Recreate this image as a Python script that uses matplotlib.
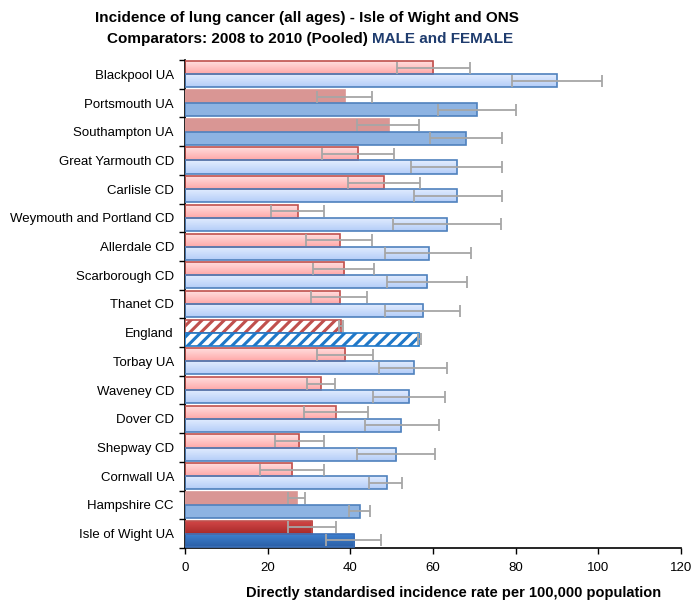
import numpy as np
import matplotlib.pyplot as plt
from matplotlib.colors import LinearSegmentedColormap
from matplotlib.patches import Rectangle

plt.rcParams['font.family'] = ['Liberation Sans', 'DejaVu Sans']
plt.rcParams['hatch.linewidth'] = 2.2

areas = ['Blackpool UA', 'Portsmouth UA', 'Southampton UA', 'Great Yarmouth CD',
         'Carlisle CD', 'Weymouth and Portland CD', 'Allerdale CD', 'Scarborough CD',
         'Thanet CD', 'England', 'Torbay UA', 'Waveney CD', 'Dover CD', 'Shepway CD',
         'Cornwall UA', 'Hampshire CC', 'Isle of Wight UA']

red_vals = [60.1, 38.7, 49.3, 41.9, 48.1, 27.3, 37.5, 38.5, 37.5, 37.7,
            38.8, 32.9, 36.5, 27.6, 25.9, 27.2, 30.8]
red_lo = [51.2, 31.9, 41.7, 33.1, 39.4, 20.8, 29.3, 31.0, 30.5, 37.2,
          31.9, 29.5, 28.8, 21.8, 18.1, 25.0, 24.8]
red_hi = [69.0, 45.3, 56.6, 50.6, 56.9, 33.6, 45.2, 45.7, 44.0, 38.2,
          45.5, 36.3, 44.3, 33.6, 33.6, 29.0, 36.6]

blue_vals = [89.9, 70.7, 67.9, 65.7, 65.8, 63.4, 59.0, 58.6, 57.6, 56.7,
             55.4, 54.2, 52.3, 51.1, 48.8, 42.3, 40.9]
blue_lo = [79.0, 61.1, 59.3, 54.6, 55.4, 50.3, 48.4, 48.9, 48.4, 56.3,
           47.0, 45.5, 43.6, 41.6, 44.6, 39.7, 34.0]
blue_hi = [100.8, 80.2, 76.7, 76.8, 76.7, 76.5, 69.2, 68.2, 66.5, 57.1,
           63.5, 62.9, 61.5, 60.5, 52.6, 44.8, 47.5]

# bar style groups
solid_areas = ['Portsmouth UA', 'Southampton UA', 'Hampshire CC']
local_area = 'Isle of Wight UA'
national = 'England'

RED_EDGE = '#c0504d'
BLUE_EDGE = '#4f81bd'
ERR = '#a6a6a6'


def gradient_bar(ax, y, w, h, top, bottom, edge):
    rect = Rectangle((0, y - h / 2), w, h, facecolor='none', edgecolor=edge,
                     linewidth=1.2, zorder=3)
    ax.add_patch(rect)
    cmap = LinearSegmentedColormap.from_list('g', [bottom, top])
    grad = np.linspace(0, 1, 50).reshape(-1, 1)
    im = ax.imshow(grad, cmap=cmap, aspect='auto', origin='lower',
                   extent=(0, w, y - h / 2, y + h / 2), zorder=2)
    im.set_clip_path(rect)


fig = plt.figure(figsize=(6.94, 6.01), dpi=100)
ax = fig.add_axes([185 / 694, 53 / 601, 496 / 694, 488 / 601])

n = len(areas)
h = 0.455
for i, name in enumerate(areas):
    yc = n - 1 - i
    yr = yc + h / 2
    yb = yc - h / 2
    rv, bv = red_vals[i], blue_vals[i]
    if name == national:
        ax.barh(yr, rv, height=h, color='white', edgecolor=RED_EDGE, hatch='///',
                linewidth=1.2, zorder=3)
        ax.barh(yb, bv, height=h, color='white', edgecolor='#1f78c8', hatch='///',
                linewidth=1.2, zorder=3)
    elif name == local_area:
        gradient_bar(ax, yr, rv, h, '#d44848', '#a82a2a', '#c0504d')
        gradient_bar(ax, yb, bv, h, '#3f82d2', '#2a5fa6', '#3a6fb8')
    elif name in solid_areas:
        ax.barh(yr, rv, height=h, color='#d99694', edgecolor='#d99694',
                linewidth=1.2, zorder=3)
        ax.barh(yb, bv, height=h, color='#8db3e2', edgecolor=BLUE_EDGE,
                linewidth=1.2, zorder=3)
    else:
        gradient_bar(ax, yr, rv, h, '#ffe2e2', '#ffa8a8', RED_EDGE)
        gradient_bar(ax, yb, bv, h, '#e4eeff', '#b4cdf8', BLUE_EDGE)

    ax.errorbar(rv, yr, xerr=[[rv - red_lo[i]], [red_hi[i] - rv]], fmt='none',
                ecolor=ERR, elinewidth=1.3, capsize=4, capthick=1.3, zorder=4)
    ax.errorbar(bv, yb, xerr=[[bv - blue_lo[i]], [blue_hi[i] - bv]], fmt='none',
                ecolor=ERR, elinewidth=1.3, capsize=4, capthick=1.3, zorder=4)

ax.set_xlim(0, 120)
ax.set_ylim(-0.5, n - 0.5)
ax.set_xticks(np.arange(0, 121, 20))
ax.set_yticks(np.arange(-0.5, n, 1))
ax.set_yticklabels([])
ax.set_yticks(np.arange(n), minor=True)
ax.set_yticklabels(areas[::-1], minor=True)
ax.tick_params(axis='y', which='minor', length=0, pad=8, labelsize=9.5)
ax.tick_params(axis='y', which='major', length=4, width=1)
ax.tick_params(axis='x', length=4, width=1, labelsize=9.5, pad=6)
for s in ['top', 'right']:
    ax.spines[s].set_visible(False)
for s in ['left', 'bottom']:
    ax.spines[s].set_linewidth(1.2)

fig.text(454 / 694, 1 - 593 / 601, 'Directly standardised incidence rate per 100,000 population',
         ha='center', va='center', fontsize=10.5, fontweight='bold')

fig.text(307 / 694, 1 - 18 / 601, 'Incidence of lung cancer (all ages) - Isle of Wight and ONS',
         ha='center', va='center', fontsize=11, fontweight='bold')
t1 = fig.text(0, 1 - 39 / 601, 'Comparators: 2008 to 2010 (Pooled) ',
              ha='left', va='center', fontsize=11, fontweight='bold')
t2 = fig.text(0, 1 - 39 / 601, 'MALE and FEMALE',
              ha='left', va='center', fontsize=11, fontweight='bold', color='#1f3c6e')
fig.canvas.draw()
w1 = t1.get_window_extent().width
w2 = t2.get_window_extent().width
x0 = 310 - (w1 + w2) / 2
t1.set_x(x0 / fig.bbox.width)
t2.set_x((x0 + w1) / fig.bbox.width)

fig.savefig('out.png', dpi=100)
